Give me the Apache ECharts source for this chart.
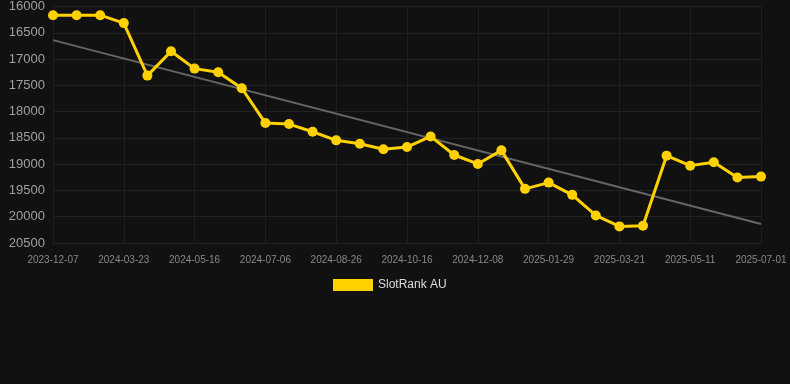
<!DOCTYPE html>
<html>
<head>
<meta charset="utf-8">
<script src="https://cdn.jsdelivr.net/npm/echarts@6/dist/echarts.min.js"></script>
<style>
html, body { margin: 0; padding: 0; background: #111111; }
#chart-panel { width: 790px; height: 384px; }
</style>
</head>
<body>
<div id="chart-panel"></div>
<script>
// dates (every 3rd one is shown on the axis)
var dates = [
    '2023-12-07', '2024-01-12', '2024-02-17', '2024-03-23', '2024-04-10', '2024-04-28',
    '2024-05-16', '2024-06-02', '2024-06-19', '2024-07-06', '2024-07-23', '2024-08-09',
    '2024-08-26', '2024-09-12', '2024-09-29', '2024-10-16', '2024-11-03', '2024-11-21',
    '2024-12-08', '2024-12-25', '2025-01-12', '2025-01-29', '2025-02-15', '2025-03-04',
    '2025-03-21', '2025-04-07', '2025-04-24', '2025-05-11', '2025-05-28', '2025-06-14',
    '2025-07-01'
];
// rank values
var ranks = [
    16165, 16165, 16165, 16316, 17315, 16853,
    17182, 17252, 17555, 18218, 18237, 18383,
    18547, 18610, 18717, 18674, 18472, 18826,
    18996, 18737, 19470, 19351, 19584, 19976,
    20184, 20171, 18838, 19028, 18965, 19255,
    19237
];
// trend line end values
var trendEnds = [16640, 20140];

var trend = dates.map(function(d, i) {
    if (i === 0) return trendEnds[0];
    if (i === dates.length - 1) return trendEnds[1];
    return null;
});

var chart = echarts.init(document.getElementById('chart-panel'));

var option = {
    backgroundColor: '#111111',
    animation: false,
    textStyle: { fontFamily: 'Liberation Sans, Arial, sans-serif' },
    grid: { left: 53, right: 29, top: 6, bottom: 141 },
    legend: {
        top: 274,
        left: 328,
        itemWidth: 40,
        itemHeight: 12,
        itemGap: 6,
        icon: 'rect',
        data: ['SlotRank AU'],
        textStyle: { color: '#dddddd', fontSize: 12 }
    },
    xAxis: {
        type: 'category',
        boundaryGap: false,
        data: dates,
        axisLine: { show: false },
        axisTick: { show: false },
        axisLabel: { interval: 2, color: '#888888', fontSize: 10, margin: 12 },
        splitLine: { show: true, interval: 2, lineStyle: { color: '#1e1e1e' } }
    },
    yAxis: {
        type: 'value',
        inverse: true,
        min: 16000,
        max: 20500,
        interval: 500,
        axisLine: { show: false },
        axisTick: { show: false },
        axisLabel: {
            color: '#a0a0a0',
            fontSize: 13,
            margin: 8,
            formatter: function(v) { return String(v); }
        },
        splitLine: { lineStyle: { color: '#222222' } }
    },
    series: [
        {
            name: 'SlotRank AU',
            type: 'line',
            data: ranks,
            symbol: 'circle',
            symbolSize: 10,
            color: '#FFD100',
            lineStyle: { width: 3, color: '#FFD100' },
            itemStyle: { color: '#FFD100' },
            z: 3
        },
        {
            name: 'trend',
            type: 'line',
            data: trend,
            connectNulls: true,
            symbol: 'none',
            lineStyle: { width: 2, color: '#666666' },
            z: 2
        }
    ]
};

chart.setOption(option);
</script>
</body>
</html>
